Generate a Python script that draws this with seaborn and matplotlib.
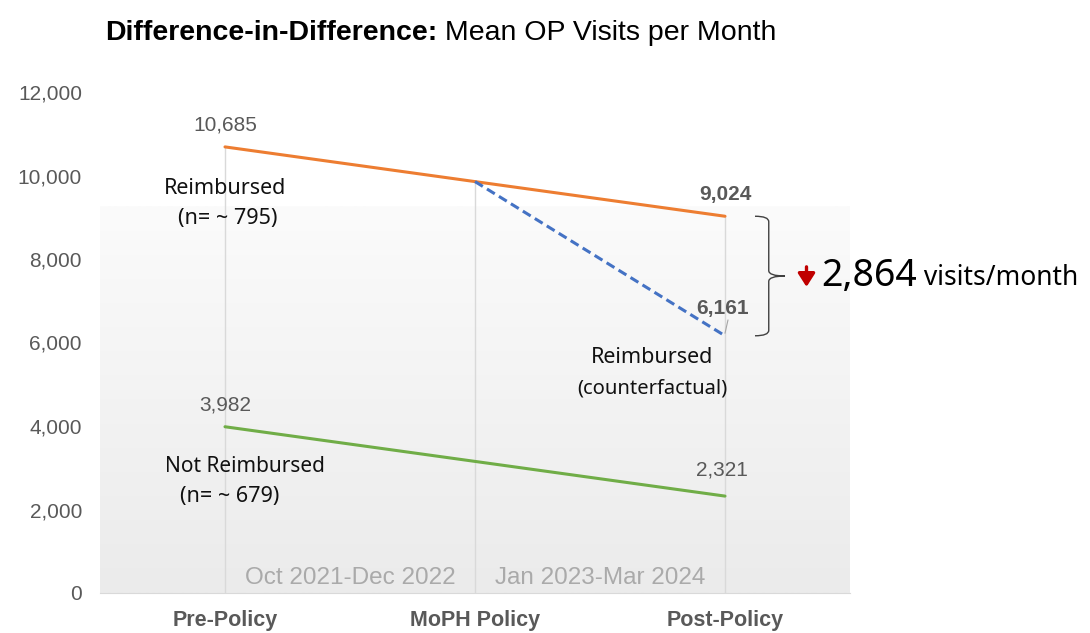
import numpy as np
import pandas as pd
import seaborn as sns
import matplotlib.pyplot as plt
from matplotlib.path import Path
from matplotlib.patches import PathPatch
from matplotlib.colors import LinearSegmentedColormap

# values
categories = ['Pre-Policy', 'MoPH Policy', 'Post-Policy']
reimbursed = [10685, 9854, 9024]
not_reimbursed = [3982, 3152, 2321]
counterfactual_cats = ['MoPH Policy', 'Post-Policy']
counterfactual = [9854, 6161]
periods = ['Oct 2021-Dec 2022', 'Jan 2023-Mar 2024']
diff_value = 2864
y_ticks = [0, 2000, 4000, 6000, 8000, 10000, 12000]

# long table for seaborn
df = pd.concat([
    pd.DataFrame({'period': categories, 'visits': reimbursed, 'group': 'Reimbursed'}),
    pd.DataFrame({'period': categories, 'visits': not_reimbursed, 'group': 'Not Reimbursed'}),
    pd.DataFrame({'period': counterfactual_cats, 'visits': counterfactual, 'group': 'Counterfactual'}),
], ignore_index=True)

sns.set_style('white')
plt.rcParams['font.family'] = ['Liberation Sans', 'DejaVu Sans']

fig = plt.figure(figsize=(10.9, 6.33), dpi=100)
ax = fig.add_axes([100 / 1090, 40 / 633, 750 / 1090, 501 / 633])

grey = '#595959'
palette = {'Reimbursed': '#ed7d31', 'Not Reimbursed': '#70ad47', 'Counterfactual': '#4472c4'}
dashes = {'Reimbursed': '', 'Not Reimbursed': '', 'Counterfactual': (3, 1.6)}

# soft gradient plot area
grad = np.linspace(0, 1, 256).reshape(-1, 1)
cmap = LinearSegmentedColormap.from_list('bg', ['#fbfbfb', '#ebebeb'])
ax.imshow(grad, cmap=cmap, extent=(-0.5, 2.5, 0, 9250), aspect='auto', zorder=0)

# drop lines
ax.vlines(range(len(categories)), 0, reimbursed, color='#d9d9d9', lw=1, zorder=1)

sns.lineplot(data=df, x='period', y='visits', hue='group', style='group',
             palette=palette, dashes=dashes, lw=2.2, sort=False, legend=False,
             ax=ax, zorder=3)

ax.set_xlim(-0.5, 2.5)
ax.set_ylim(0, 12000)
ax.set_yticks(y_ticks)
ax.set_yticklabels([f'{v:,}' for v in y_ticks], color=grey, fontsize=15)
ax.set_xticks(range(len(categories)))
ax.set_xticklabels(categories, color=grey, fontsize=15.5, fontweight='bold')
ax.tick_params(axis='y', pad=13, length=0)
ax.tick_params(axis='x', pad=12, length=0)
ax.set_xlabel('')
ax.set_ylabel('')
for s in ['top', 'right', 'left']:
    ax.spines[s].set_visible(False)
ax.spines['bottom'].set_color('#d9d9d9')
ax.set_facecolor('none')

# data labels
def lab(x, y, txt, dx=0, dy=16, bold=False):
    ax.annotate(txt, (x, y), xytext=(dx, dy), textcoords='offset points',
                ha='center', va='center', color=grey, fontsize=15,
                fontweight='bold' if bold else 'normal', zorder=5)

lab(0, reimbursed[0], f'{reimbursed[0]:,}')
lab(2, reimbursed[2], f'{reimbursed[2]:,}', dy=16, bold=True)
lab(0, not_reimbursed[0], f'{not_reimbursed[0]:,}')
lab(2, not_reimbursed[2], f'{not_reimbursed[2]:,}', dx=-2, dy=19)
ax.annotate(f'{counterfactual[1]:,}', (2, counterfactual[1]), xytext=(-2, 20),
            textcoords='offset points', ha='center', va='center', color=grey,
            fontsize=15, fontweight='bold', zorder=5)
ax.plot([2.0, 2.012], [counterfactual[1] + 60, counterfactual[1] + 380], color='#a6a6a6', lw=0.8, zorder=4)

# series labels
lf = ['Noto Sans', 'DejaVu Sans']
ink = '#111111'
ax.text(0, 9700, 'Reimbursed', ha='center', va='center', fontsize=15.5, family=lf, color=ink)
ax.text(0.01, 8980, '(n= ~ 795)', ha='center', va='center', fontsize=15.5, family=lf, color=ink)
ax.text(0.08, 3020, 'Not Reimbursed', ha='center', va='center', fontsize=15, family=lf, color=ink)
ax.text(0.02, 2300, '(n= ~ 679)', ha='center', va='center', fontsize=15.5, family=lf, color=ink)
ax.text(1.71, 5650, 'Reimbursed', ha='center', va='center', fontsize=15.5, family=lf, color=ink)
ax.text(1.71, 4910, '(counterfactual)', ha='center', va='center', fontsize=14.5, family=lf, color=ink)

# period labels
for i, p in enumerate(periods):
    ax.text(i + 0.5, 360, p, ha='center', va='center', fontsize=17.5, color='#aaaaaa')

# curly brace between actual and counterfactual
top, bot = reimbursed[2], counterfactual[1]
mid = (top + bot) / 2
xl, xv, xt = 2.12, 2.175, 2.24
e = 130
verts = [(xl, top), (xv, top), (xv, top - e),
         (xv, mid + e), (xv, mid), (xt, mid),
         (xv, mid), (xv, mid - e),
         (xv, bot + e), (xv, bot), (xl, bot)]
codes = [Path.MOVETO, Path.CURVE3, Path.CURVE3,
         Path.LINETO, Path.CURVE3, Path.CURVE3,
         Path.CURVE3, Path.CURVE3,
         Path.LINETO, Path.CURVE3, Path.CURVE3]
ax.add_patch(PathPatch(Path(verts, codes), fill=False, ec='#404040', lw=1, clip_on=False, zorder=4))

# red down arrow and the difference
ax.annotate('', xy=(2.326, mid - 260), xytext=(2.326, mid + 220),
            arrowprops=dict(arrowstyle='-|>,head_width=0.32,head_length=0.5', lw=2.4,
                            color='#c00000', mutation_scale=16, shrinkA=0, shrinkB=0),
            annotation_clip=False)
t = ax.text(2.385, mid, f'{diff_value:,}', ha='left', va='center', fontsize=27, family=lf,
            color='black', clip_on=False)
ax.annotate(' visits/month', xy=(1, 0.45), xycoords=t, ha='left', va='center',
            fontsize=19, family=lf, color='black', annotation_clip=False)

# title: bold lead plus regular remainder
tt = fig.text(105 / 1090, 1 - 33 / 633, 'Difference-in-Difference:', ha='left', va='center',
              fontsize=20.5, fontweight='bold', color='black')
ax.annotate(' Mean OP Visits per Month', xy=(1, 0.5), xycoords=tt, ha='left', va='center',
            fontsize=20.5, color='black', annotation_clip=False)

fig.savefig('out.png', dpi=100, facecolor='white')
